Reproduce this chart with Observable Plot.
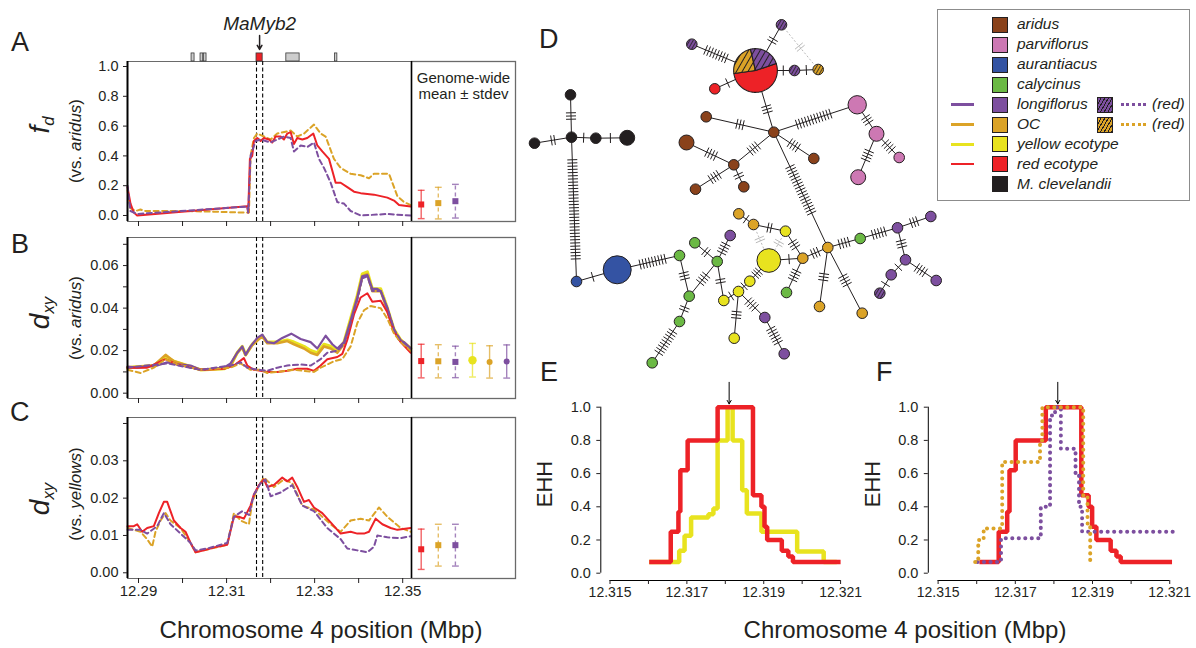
<!DOCTYPE html>
<html>
<head>
<meta charset="utf-8">
<script src="https://cdn.jsdelivr.net/npm/d3@7"></script>
<script src="https://cdn.jsdelivr.net/npm/@observablehq/plot@0.6"></script>
<style>
html,body{margin:0;padding:0;background:#fff;}
#root{position:relative;width:1196px;height:648px;overflow:hidden;background:#fff;font-family:"Liberation Sans",Arial,Helvetica,sans-serif;color:#231f20;}
#root .lbl{position:absolute;white-space:nowrap;line-height:1;}
#root sub{font-size:60%;vertical-align:-0.3em;line-height:0;}
</style>
</head>
<body>
<div id="root"></div>
<script>
// ======================= DATA =======================
const xTicksMain = [12.29, 12.30, 12.31, 12.32, 12.33, 12.34, 12.35];
const xLabelsMain = [12.29, 12.31, 12.33, 12.35];
const fdTicks = [0, 0.2, 0.4, 0.6, 0.8, 1.0];
const dxyAridusTicks = [0, 0.01, 0.02, 0.03, 0.04, 0.05, 0.06, 0.07];
const dxyAridusLabels = [0, 0.02, 0.04, 0.06];
const dxyYellowTicks = [0, 0.01, 0.02, 0.03, 0.04];
const dxyYellowLabels = [0, 0.01, 0.02, 0.03];
const ehhYTicks = [0, 0.2, 0.4, 0.6, 0.8, 1.0];
const ehhXTicks = [12.315, 12.316, 12.317, 12.318, 12.319, 12.320, 12.321];
const ehhXLabels = [12.315, 12.317, 12.319, 12.321];

const candidateWindow = [12.3168, 12.3182];
const targetGene = "MaMyb2";
const geneStart = [12.30205, 12.30409, 12.30484, 12.3168, 12.32357, 12.33461];
const geneEnd   = [12.30273, 12.30470, 12.30545, 12.3182, 12.32659, 12.33516];
const geneIsTarget = [false, false, false, true, false, false];
const coreSnp = 12.3181;

// A: f_d vs aridus
const fdRed = [[12.2875,0.19],[12.28818,0.08],[12.28894,0.02],[12.2897,0.0],[12.3147,0.062],[12.31492,0.02],[12.3153,0.38],[12.31583,0.40],[12.31621,0.50],[12.31697,0.52],[12.31773,0.50],[12.31848,0.52],[12.31962,0.51],[12.32038,0.49],[12.32114,0.53],[12.32227,0.53],[12.32303,0.51],[12.32379,0.55],[12.32455,0.56],[12.3253,0.48],[12.32606,0.52],[12.3272,0.51],[12.32833,0.52],[12.3297,0.55],[12.33061,0.47],[12.33174,0.43],[12.33326,0.38],[12.33402,0.30],[12.33477,0.22],[12.33591,0.22],[12.33742,0.19],[12.33894,0.16],[12.34045,0.15],[12.34348,0.14],[12.34652,0.12],[12.34803,0.10],[12.34917,0.07],[12.35182,0.06]];
const fdOCred = [[12.2875,0.17],[12.28818,0.05],[12.28932,0.03],[12.29045,0.04],[12.29159,0.03],[12.30106,0.03],[12.31394,0.02],[12.31508,0.02],[12.31545,0.40],[12.31621,0.52],[12.31697,0.55],[12.31848,0.53],[12.32,0.51],[12.32152,0.55],[12.32455,0.57],[12.32606,0.53],[12.32758,0.55],[12.32985,0.61],[12.33136,0.55],[12.3325,0.53],[12.33439,0.38],[12.33591,0.32],[12.33818,0.28],[12.34045,0.27],[12.34235,0.25],[12.34348,0.28],[12.34689,0.28],[12.34879,0.13],[12.3503,0.09],[12.35182,0.07]];
const fdLonRed = [[12.2875,0.2],[12.28818,0.03],[12.28894,0.02],[12.2897,0.01],[12.3147,0.06],[12.31492,0.02],[12.31545,0.40],[12.31659,0.50],[12.31773,0.51],[12.32,0.49],[12.32152,0.51],[12.32303,0.53],[12.32455,0.52],[12.3253,0.43],[12.32682,0.47],[12.32833,0.46],[12.32985,0.49],[12.33098,0.38],[12.33212,0.32],[12.33364,0.22],[12.33515,0.09],[12.33667,0.08],[12.33818,0.03],[12.34045,0.0],[12.34652,0.01],[12.35182,0.0]];

// B: d_xy vs aridus
const dxyAYellow = [[12.2875,0.012],[12.29348,0.013],[12.29614,0.017],[12.29803,0.015],[12.30106,0.013],[12.30409,0.011],[12.30939,0.0115],[12.31091,0.013],[12.31242,0.019],[12.31356,0.022],[12.31432,0.018],[12.31583,0.023],[12.31735,0.026],[12.31811,0.027],[12.31924,0.024],[12.32152,0.024],[12.32379,0.025],[12.3253,0.024],[12.32758,0.022],[12.32909,0.020],[12.33061,0.019],[12.33212,0.023],[12.33364,0.022],[12.33515,0.020],[12.33667,0.024],[12.33818,0.035],[12.3397,0.046],[12.34083,0.056],[12.34197,0.057],[12.3431,0.049],[12.345,0.049],[12.34652,0.040],[12.34803,0.030],[12.34955,0.025],[12.35182,0.021]];
const dxyAOC = [[12.2875,0.012],[12.29348,0.013],[12.29614,0.018],[12.29803,0.015],[12.30106,0.013],[12.30409,0.011],[12.30939,0.0115],[12.31091,0.013],[12.31242,0.019],[12.31356,0.0215],[12.31432,0.018],[12.31583,0.0225],[12.31735,0.0255],[12.31811,0.0265],[12.31924,0.0235],[12.32152,0.0235],[12.32379,0.0245],[12.3253,0.023],[12.32758,0.021],[12.32909,0.019],[12.33061,0.018],[12.33212,0.022],[12.33364,0.021],[12.33515,0.019],[12.33667,0.023],[12.33818,0.034],[12.3397,0.045],[12.34083,0.055],[12.34197,0.056],[12.3431,0.048],[12.345,0.048],[12.34652,0.039],[12.34803,0.029],[12.34955,0.025],[12.35182,0.021]];
const dxyALon = [[12.2875,0.0125],[12.2897,0.012],[12.29197,0.0125],[12.29424,0.013],[12.29652,0.0145],[12.29879,0.0135],[12.30182,0.013],[12.30409,0.011],[12.30939,0.012],[12.31091,0.014],[12.31242,0.019],[12.31356,0.022],[12.31432,0.018],[12.31545,0.022],[12.31697,0.026],[12.31811,0.0275],[12.31924,0.024],[12.32076,0.0235],[12.32265,0.026],[12.3247,0.028],[12.32682,0.0255],[12.32909,0.024],[12.33061,0.021],[12.3325,0.027],[12.33402,0.023],[12.33515,0.021],[12.33667,0.024],[12.33818,0.034],[12.3397,0.045],[12.34083,0.055],[12.34197,0.0555],[12.3431,0.049],[12.34424,0.049],[12.345,0.048],[12.34652,0.040],[12.34803,0.030],[12.34917,0.025],[12.3503,0.024],[12.35182,0.021]];
const dxyARed = [[12.2875,0.012],[12.29197,0.012],[12.29614,0.016],[12.29879,0.0135],[12.30409,0.011],[12.30939,0.0115],[12.31167,0.013],[12.31394,0.0165],[12.3147,0.013],[12.31621,0.011],[12.31773,0.0105],[12.31924,0.010],[12.32152,0.010],[12.32379,0.0105],[12.32606,0.0115],[12.32833,0.0115],[12.32985,0.0105],[12.33136,0.013],[12.33288,0.016],[12.33515,0.017],[12.33629,0.0185],[12.33742,0.025],[12.33894,0.037],[12.34045,0.045],[12.34197,0.047],[12.3431,0.043],[12.345,0.0435],[12.34652,0.038],[12.34803,0.029],[12.34955,0.024],[12.35182,0.019]];
const dxyAOCred = [[12.2875,0.011],[12.29045,0.0095],[12.29348,0.012],[12.29614,0.016],[12.29879,0.0135],[12.30409,0.011],[12.31091,0.012],[12.31318,0.014],[12.31545,0.011],[12.31773,0.011],[12.31924,0.0095],[12.32152,0.010],[12.3253,0.011],[12.32985,0.010],[12.33136,0.012],[12.33439,0.015],[12.33629,0.016],[12.33818,0.022],[12.3397,0.033],[12.34121,0.039],[12.34273,0.041],[12.345,0.040],[12.34652,0.035],[12.34803,0.028],[12.34955,0.024],[12.35182,0.020]];
const dxyALonRed = [[12.2875,0.012],[12.29652,0.014],[12.30409,0.011],[12.31091,0.013],[12.31318,0.0145],[12.3147,0.012],[12.31697,0.011],[12.31924,0.0105],[12.32152,0.012],[12.32379,0.013],[12.32682,0.0135],[12.32909,0.013],[12.33136,0.016],[12.33288,0.019],[12.33515,0.020],[12.33667,0.023],[12.33818,0.033],[12.3397,0.044],[12.34083,0.054],[12.34197,0.055],[12.3431,0.048],[12.345,0.048],[12.34652,0.040],[12.34803,0.030],[12.34955,0.025],[12.35182,0.021]];

// C: d_xy vs yellows
const dxyYRed = [[12.2875,0.0125],[12.28894,0.0125],[12.2897,0.013],[12.29083,0.011],[12.29197,0.012],[12.29348,0.0125],[12.29462,0.016],[12.29576,0.019],[12.29652,0.019],[12.29727,0.0165],[12.29803,0.014],[12.29955,0.012],[12.30068,0.011],[12.30182,0.008],[12.30295,0.0055],[12.30485,0.006],[12.30788,0.007],[12.31015,0.0075],[12.31167,0.015],[12.3128,0.015],[12.31394,0.0145],[12.31545,0.018],[12.31621,0.021],[12.31735,0.0235],[12.31848,0.025],[12.31924,0.023],[12.32076,0.0235],[12.32265,0.0255],[12.32379,0.0245],[12.32492,0.0255],[12.32606,0.023],[12.32758,0.019],[12.3287,0.0195],[12.32985,0.0175],[12.33174,0.016],[12.33364,0.0135],[12.33591,0.0105],[12.33818,0.011],[12.3397,0.0105],[12.34121,0.0105],[12.34235,0.011],[12.34386,0.0145],[12.34538,0.013],[12.34727,0.012],[12.34879,0.0115],[12.35182,0.012]];
const dxyYOCred = [[12.2875,0.012],[12.29045,0.011],[12.29197,0.009],[12.29311,0.007],[12.29386,0.011],[12.295,0.014],[12.29614,0.016],[12.29727,0.014],[12.29955,0.012],[12.30182,0.008],[12.30295,0.0055],[12.31015,0.0075],[12.31167,0.016],[12.31318,0.014],[12.31508,0.013],[12.31583,0.019],[12.31735,0.0235],[12.31848,0.0255],[12.32076,0.023],[12.32303,0.025],[12.32492,0.024],[12.3272,0.018],[12.32985,0.017],[12.33364,0.013],[12.33591,0.011],[12.33818,0.014],[12.34045,0.0145],[12.34235,0.014],[12.34462,0.0175],[12.34652,0.015],[12.34955,0.012],[12.35182,0.011]];
const dxyYLonRed = [[12.2875,0.0115],[12.29045,0.0115],[12.29197,0.0105],[12.29424,0.0125],[12.29576,0.016],[12.29727,0.013],[12.29955,0.0105],[12.30182,0.008],[12.30295,0.006],[12.30561,0.0065],[12.31015,0.008],[12.31167,0.015],[12.31356,0.0165],[12.31508,0.0155],[12.31621,0.021],[12.31773,0.024],[12.31886,0.025],[12.32,0.0205],[12.32227,0.0215],[12.32492,0.0235],[12.3272,0.018],[12.32985,0.0165],[12.33288,0.012],[12.33591,0.009],[12.33742,0.0065],[12.3397,0.006],[12.34197,0.0055],[12.34348,0.007],[12.34424,0.010],[12.34652,0.0095],[12.34955,0.0093],[12.35182,0.0098]];

// Genome-wide mean +- stdev
const gwCats = ["red ecotype", "OC (red)", "longiflorus (red)", "yellow ecotype", "OC", "longiflorus"];
const gwFdMean = [0.074, 0.083, 0.096];
const gwFdSd = [0.095, 0.106, 0.113];
const gwDxyAMean = [0.0151, 0.0150, 0.0147, 0.0155, 0.0147, 0.0149];
const gwDxyASd = [0.0079, 0.0078, 0.0074, 0.0079, 0.0076, 0.0078];
const gwDxyYMean = [0.0063, 0.0074, 0.0074];
const gwDxyYSd = [0.0054, 0.0056, 0.0056];

// E, F: EHH
const ehhERed = [[12.31602,0.067],[12.31658,0.25],[12.31678,0.37],[12.31683,0.62],[12.31702,0.80],[12.3178,1.0],[12.31872,0.47],[12.31894,0.40],[12.31902,0.28],[12.31909,0.20],[12.31947,0.135],[12.31964,0.10],[12.31976,0.067],[12.321,0.067]];
const ehhEYellow = [[12.31602,0.067],[12.3168,0.135],[12.31694,0.225],[12.31711,0.335],[12.31756,0.355],[12.31769,0.39],[12.3178,0.80],[12.31806,1.0],[12.31819,0.80],[12.31844,0.50],[12.31856,0.36],[12.31894,0.25],[12.31987,0.13],[12.32056,0.067],[12.3209,0.067]];
const ehhFRed = [[12.31607,0.067],[12.31657,0.25],[12.31679,0.37],[12.31685,0.62],[12.31701,0.80],[12.31779,1.0],[12.31871,0.47],[12.3189,0.40],[12.31899,0.28],[12.3191,0.20],[12.31947,0.135],[12.31962,0.10],[12.31973,0.067],[12.32106,0.067]];
const ehhFOCred = [[12.31596,0.067],[12.31604,0.2],[12.31618,0.27],[12.31666,0.67],[12.31764,0.8],[12.3177,1.0],[12.31876,0.47],[12.31887,0.3],[12.31894,0.067],[12.31897,0.067]];
const ehhFLonRed = [[12.31602,0.067],[12.31663,0.21],[12.31766,0.4],[12.3179,0.95],[12.31803,1.0],[12.31818,0.75],[12.31856,0.6],[12.31865,0.4],[12.31873,0.25],[12.32122,0.25]];

// D: haplotype network  [id, taxon, layoutX, layoutY, count, red-haplotype(hatched)]
const hapNodes = [
 ["k1","M. clevelandii",50,94.3,1,0],["k2","M. clevelandii",14,142.7,1,0],["k3","M. clevelandii",51,136.7,1,0],
 ["k4","M. clevelandii",75.3,137.7,1,0],["k5","M. clevelandii",106.7,137.3,2,0],
 ["a1","aurantiacus",56,281,1,0],["a2","aurantiacus",96.7,269.3,7,0],
 ["g1","calycinus",159,255,1,0],["g2","calycinus",174.3,242.3,1,0],["g3","calycinus",196.7,261,1,0],
 ["g4","calycinus",168.7,295.7,1,0],["g5","calycinus",159,321,1,0],["g6","calycinus",131.7,362.3,1,0],
 ["g7","calycinus",266,292,1,0],["g8","calycinus",339.7,238,1,0],
 ["Y","yellow ecotype",248.3,260,5,0],["y1","yellow ecotype",265,230.7,1,0],["y2","yellow ecotype",229.3,280.7,1,0],
 ["y3","yellow ecotype",203.3,300,1,0],["y4","yellow ecotype",218,291,1,0],["y5","yellow ecotype",213.7,337.7,1,0],
 ["o1","OC",218.3,213.3,1,0],["o2","OC",233,224,1,0],["o3","OC",282.3,257.7,1,0],["o4","OC",307.3,247,1,0],
 ["o5","OC",299,306,1,0],["o6","OC",341.7,312.7,1,0],
 ["p1","longiflorus",209.7,235,1,0],["p2","longiflorus",244.3,317,1,0],["p3","longiflorus",263.7,353.3,1,0],
 ["p4","longiflorus",377,227.3,1,0],["p5","longiflorus",410.3,216,1,0],["p6","longiflorus",385,259.3,1,0],
 ["p7","longiflorus",370.7,274.3,1,0],["p8","longiflorus",359.3,292.7,1,1],["p9","longiflorus",415.7,280,1,0],
 ["bh","aridus",253.3,131.7,1,0],["b1","aridus",185.7,116.3,1,0],["b2","aridus",166,142,2,0],["b3","aridus",213.3,164.3,1,0],
 ["b4","aridus",175,188.7,1,0],["b5","aridus",223.3,186.3,1,0],["b6","aridus",293.3,158,1,0],
 ["pk1","parviflorus",336.7,104.3,3,0],["pk2","parviflorus",356,133.3,2,0],["pk3","parviflorus",378.7,157,1,0],["pk4","parviflorus",337.7,176.7,2,0],
 ["M","mixed",235,70,17,0],
 ["r1","red ecotype",194.3,88.3,1,0],["ph1","longiflorus",171.3,43.7,1,1],["ph2","longiflorus",261,24.3,1,1],
 ["ph3","longiflorus",274,70,1,1],["oh1","OC",297.7,69,1,1]
];
// shared haplotype M composition: [taxon, count, red-haplotype]
const mixedComposition = [["red ecotype",9,0],["OC",4,1],["longiflorus",4,1]];
// [from, to, mutations]
const hapEdges = [
 ["k1","k3",3],["k2","k3",2],["k3","k4",1],["k4","k5",1],["k3","a1",32],["a1","a2",1],["a2","g1",9],
 ["g1","g4",3],["g4","g5",2],["g5","g6",9],["g4","g3",4],["g3","g2",2],["g3","p1",4],["g3","y3",2],
 ["Y","y2",3],["y2","y4",1],["y4","y3",1],["y4","y5",3],["y4","p2",4],["p2","p3",6],
 ["o1","o2",1],["o2","y1",2],["y1","o3",3],["Y","o3",1],["o3","o4",3],["o3","g7",4],
 ["o4","g8",4],["g8","p4",5],["p4","p5",3],["p4","p6",3],["p6","p7",1],["p7","p8",1],["p6","p9",4],
 ["o4","o5",3],["o4","o6",4],["o4","bh",17],
 ["bh","b1",3],["bh","b3",4],["b3","b2",4],["b3","b4",4],["b3","b5",2],["bh","b6",4],
 ["bh","pk1",12],["pk1","pk2",3],["pk2","pk3",4],["pk2","pk4",4],
 ["bh","M",3],["M","r1",1],["M","ph1",8],["M","ph2",2],["M","ph3",1],["ph3","oh1",1]
];
const hapEdgesAlt = [["ph2","oh1",2],["o2","Y",2],["y1","Y",2]];

// Legend
const legendTaxa = ["aridus","parviflorus","aurantiacus","calycinus","longiflorus","OC","yellow ecotype","red ecotype","M. clevelandii"];
const legendLineTaxa = ["longiflorus","OC","yellow ecotype","red ecotype"];
const legendRedHapTaxa = ["longiflorus","OC"];

// ======================= STYLE / LAYOUT =======================
const COLORS = {"aridus":"#8a421b","parviflorus":"#cd78b3","aurantiacus":"#3453a3","calycinus":"#6bb944",
  "longiflorus":"#7d4f9f","OC":"#dba327","yellow ecotype":"#e8e31f","red ecotype":"#ed2227","M. clevelandii":"#231f20"};
const INK = "#231f20";
const FONT = '"Liberation Sans", Arial, Helvetica, sans-serif';
const baseStyle = {background:"transparent", overflow:"visible", fontFamily: FONT, color: INK};
const root = document.getElementById("root");
const X = d => d[0], Y = d => d[1];
const inList = (list, f) => d => list.some(v => Math.abs(v - d) < 1e-9) ? f(d) : "";

function place(el, left, top) {
  el.style.position = "absolute"; el.style.left = left + "px"; el.style.top = top + "px";
  root.appendChild(el); return el;
}
function hLabel(html, x, capTop, size, center = false, extra = {}) {
  const d = document.createElement("div"); d.className = "lbl"; d.innerHTML = html;
  d.style.fontSize = size + "px"; d.style.top = (capTop - 0.13 * size) + "px"; d.style.left = x + "px";
  if (center) d.style.transform = "translateX(-50%)";
  Object.assign(d.style, extra); root.appendChild(d); return d;
}
function vLabel(html, cx, cy, size) {
  const d = document.createElement("div"); d.className = "lbl"; d.innerHTML = html;
  d.style.fontSize = size + "px"; d.style.left = cx + "px"; d.style.top = cy + "px";
  d.style.transform = "translate(-50%,-50%) rotate(-90deg)";
  root.appendChild(d); return d;
}

// ---------- A/B/C main panels ----------
const xMainDomain = [12.2875, 12.3520];
function mainPlot({height, mTop, mBottom, yDomain, yTicks, yFormat, series, xLabels, extra = []}) {
  return Plot.plot({
    width: 411, height, marginLeft: 127, marginRight: 0, marginTop: mTop, marginBottom: mBottom,
    style: baseStyle,
    x: {domain: xMainDomain, label: null},
    y: {domain: yDomain, label: null},
    color: {type: "identity"},
    marks: [
      Plot.frame({stroke: "#6a6a6a"}),
      Plot.ruleX(candidateWindow, {stroke: "#000", strokeWidth: 1.1, strokeDasharray: "4,2.5"}),
      ...series.map(s => Plot.line(s.data, {x: X, y: Y, stroke: s.color, strokeWidth: s.width || 2,
        strokeDasharray: s.dash, strokeLinejoin: "round", strokeOpacity: s.opacity || 1})),
      Plot.ruleX([xMainDomain[0]], {stroke: "#000", strokeWidth: 2}),
      Plot.axisY({ticks: yTicks, tickFormat: yFormat, tickSize: 4, tickPadding: 5, fontSize: 14.5, label: null}),
      Plot.axisX({ticks: xTicksMain, tickFormat: xLabels ? inList(xLabelsMain, d3.format(".2f")) : (() => ""),
        tickSize: 5, tickPadding: 2, fontSize: 15, label: null}),
      ...extra
    ]
  });
}
const RED = COLORS["red ecotype"], OCC = COLORS.OC, LON = COLORS.longiflorus, YEL = COLORS["yellow ecotype"];
const DASH = "5,3.5";

const geneIdx = d3.range(geneStart.length);
const targetMid = (geneStart[3] + geneEnd[3]) / 2;
const plotA = mainPlot({
  height: 230, mTop: 61, mBottom: 9, yDomain: [-0.0403, 1.0336], yTicks: fdTicks, yFormat: d3.format(".1f"),
  series: [
    {data: fdOCred, color: OCC, dash: DASH},
    {data: fdRed, color: RED, width: 2},
    {data: fdLonRed, color: LON, dash: DASH}
  ],
  xLabels: false,
  extra: [
    Plot.rect(geneIdx, {x1: i => geneStart[i], x2: i => geneEnd[i], y1: 1.0336, y2: 1.0877,
      fill: i => geneIsTarget[i] ? RED : "#cdcdcd", stroke: "#3a3a3a", strokeWidth: 0.8}),
    Plot.arrow([targetMid], {x1: d => d, x2: d => d, y1: 1.2085, y2: 1.1145, stroke: INK, strokeWidth: 1.5, headLength: 7}),
    Plot.text([targetGene], {x: targetMid, y: 1.289, text: d => d, fontSize: 19, fontStyle: "italic", fill: INK})
  ]
});
place(plotA, 0, 0);

const plotB = mainPlot({
  height: 180, mTop: 7, mBottom: 12, yDomain: [-0.0025, 0.0732], yTicks: dxyAridusTicks,
  yFormat: inList(dxyAridusLabels, d3.format(".2f")),
  series: [
    {data: dxyAYellow, color: YEL, width: 3.2},
    {data: dxyAOC, color: OCC, width: 2.6},
    {data: dxyALon, color: LON, width: 2.2},
    {data: dxyARed, color: RED, width: 2},
    {data: dxyAOCred, color: OCC, dash: DASH},
    {data: dxyALonRed, color: LON, dash: DASH}
  ],
  xLabels: false
});
place(plotB, 0, 230);

const plotC = mainPlot({
  height: 200, mTop: 7, mBottom: 32, yDomain: [-0.00153, 0.0416], yTicks: dxyYellowTicks,
  yFormat: inList(dxyYellowLabels, d3.format(".2f")),
  series: [
    {data: dxyYOCred, color: OCC, dash: DASH},
    {data: dxyYRed, color: RED, width: 2},
    {data: dxyYLonRed, color: LON, dash: DASH}
  ],
  xLabels: true
});
place(plotC, 0, 410);

// ---------- genome-wide side boxes ----------
const sideStyle = {
  "red ecotype": {color: RED, symbol: "square", r: 3.4},
  "OC (red)": {color: OCC, dash: "4,3", symbol: "square", r: 3.4},
  "longiflorus (red)": {color: LON, dash: "4,3", symbol: "square", r: 3.4},
  "yellow ecotype": {color: YEL, symbol: "circle", r: 4.2},
  "OC": {color: OCC, symbol: "circle", r: 3},
  "longiflorus": {color: LON, symbol: "circle", r: 3}
};
function sidePlot({height, mTop, mBottom, yDomain, means, sds, note}) {
  const stats = means.map((m, i) => ({i, cat: gwCats[i], mean: m, lo: m - sds[i], hi: m + sds[i]}));
  const marks = [Plot.frame({stroke: "#6a6a6a", strokeWidth: 1.3})];
  for (const s of stats) {
    const st = sideStyle[s.cat];
    marks.push(
      Plot.ruleX([s], {x: "i", y1: "lo", y2: "hi", stroke: st.color, strokeOpacity: 0.7, strokeWidth: 1.4, strokeDasharray: st.dash}),
      Plot.link([s, s], {x1: d => d.i - 0.2, x2: d => d.i + 0.2, y1: (d, j) => j ? d.hi : d.lo, y2: (d, j) => j ? d.hi : d.lo,
        stroke: st.color, strokeOpacity: 0.7, strokeWidth: 1.4}),
      Plot.dot([s], {x: "i", y: "mean", symbol: st.symbol, r: st.r, fill: st.color, stroke: "none"})
    );
  }
  marks.push(Plot.ruleX([-0.567], {stroke: "#000", strokeWidth: 1.5}));
  if (note) marks.push(Plot.text([note], {text: d => d, frameAnchor: "top", lineAnchor: "top", dy: 9, fontSize: 15, lineHeight: 1.13, fill: INK}));
  return Plot.plot({
    width: 105, height, marginLeft: 0, marginRight: 1, marginTop: mTop, marginBottom: mBottom,
    style: baseStyle, x: {domain: [-0.567, 5.515], axis: null}, y: {domain: yDomain, axis: null}, marks
  });
}
place(sidePlot({height: 230, mTop: 61, mBottom: 9, yDomain: [-0.0403, 1.0336], means: gwFdMean, sds: gwFdSd,
  note: "Genome-wide\nmean \u00b1 stdev"}), 411, 0);
place(sidePlot({height: 180, mTop: 7, mBottom: 12, yDomain: [-0.0025, 0.0732], means: gwDxyAMean, sds: gwDxyASd}), 411, 230);
place(sidePlot({height: 200, mTop: 7, mBottom: 32, yDomain: [-0.00153, 0.0416], means: gwDxyYMean, sds: gwDxyYSd}), 411, 410);

// ---------- E / F: EHH ----------
function ehhPlot({width, mLeft, mRight, xDomain, series}) {
  return Plot.plot({
    width, height: 230, marginLeft: mLeft, marginRight: mRight, marginTop: 26.7, marginBottom: 30,
    style: baseStyle,
    x: {domain: xDomain, label: null}, y: {domain: [-0.044, 1], label: null},
    marks: [
      ...series.map(s => Plot.line(s.data, {x: X, y: Y, curve: "step-after", stroke: s.color,
        strokeWidth: s.dotted ? 4 : 4.5, strokeDasharray: s.dotted ? "0.1,6.4" : undefined,
        strokeLinecap: s.dotted ? "round" : "butt", strokeLinejoin: "miter"})),
      Plot.ruleX([xDomain[0]], {y1: 0, y2: 1, stroke: "#000", strokeWidth: 1}),
      Plot.ruleY([-0.044], {x1: ehhXTicks[0], x2: ehhXTicks[ehhXTicks.length - 1], stroke: "#000", strokeWidth: 1}),
      Plot.axisY({ticks: ehhYTicks, tickFormat: d3.format(".1f"), tickSize: 4, tickPadding: 6, fontSize: 14.5, label: null}),
      Plot.axisX({ticks: ehhXTicks, tickFormat: inList(ehhXLabels, d3.format(".3f")), tickSize: 4, tickPadding: 3, fontSize: 14, label: null}),
      Plot.arrow([coreSnp], {x1: d => d, x2: d => d, y1: 1.15, y2: 1.02, stroke: "#000", strokeWidth: 1, headLength: 6})
    ]
  });
}
place(ehhPlot({width: 340, mLeft: 80.3, mRight: 10.3, xDomain: [12.31476, 12.32125],
  series: [{data: ehhEYellow, color: YEL}, {data: ehhERed, color: RED}]}), 520, 380);
place(ehhPlot({width: 326, mLeft: 57.8, mRight: 15.2, xDomain: [12.314746, 12.3213],
  series: [{data: ehhFRed, color: RED}, {data: ehhFLonRed, color: LON, dotted: true}, {data: ehhFOCred, color: OCC, dotted: true}]}), 870, 380);

// ---------- D: haplotype network ----------
const R1 = 5.3;
const rOf = n => R1 * Math.sqrt(n);
const nodes = hapNodes.map(([id, group, x, y, n, hatched]) => ({id, group, x, y, n, hatched}));
const nodeById = new Map(nodes.map(d => [d.id, d]));
function edgeSegs(edges) {
  return edges.map(([a, b]) => { const A = nodeById.get(a), B = nodeById.get(b); return {x1: A.x, y1: A.y, x2: B.x, y2: B.y}; });
}
function edgeTicks(edges, spacing = 3.2, half = 5) {
  const out = [];
  for (const [a, b, k] of edges) {
    const A = nodeById.get(a), B = nodeById.get(b);
    const dx = B.x - A.x, dy = B.y - A.y, L = Math.hypot(dx, dy);
    const ux = dx / L, uy = dy / L, px = -uy, py = ux;
    const rA = rOf(A.n), rB = rOf(B.n), vis = L - rA - rB;
    const sp = Math.min(spacing, (vis - 3) / Math.max(k, 1));
    const mid = rA + vis / 2;
    for (let i = 0; i < k; i++) {
      const t = mid + (i - (k - 1) / 2) * sp;
      const cx = A.x + ux * t, cy = A.y + uy * t;
      out.push({x1: cx + px * half, y1: cy + py * half, x2: cx - px * half, y2: cy - py * half});
    }
  }
  return out;
}
const mixed = nodeById.get("M");
const mixedTotal = d3.sum(mixedComposition, d => d[1]);
const pieStart = -18.6 * Math.PI / 180;
let acc = pieStart;
const slices = mixedComposition.map(([group, n, hatched]) => {
  const a0 = acc, a1 = acc + 2 * Math.PI * n / mixedTotal; acc = a1;
  const R = rOf(mixedTotal), pts = [{x: mixed.x, y: mixed.y}];
  const steps = Math.max(8, Math.ceil((a1 - a0) / 0.05));
  for (let s = 0; s <= steps; s++) { const a = a0 + (a1 - a0) * s / steps; pts.push({x: mixed.x + R * Math.cos(a), y: mixed.y + R * Math.sin(a)}); }
  pts.push({x: mixed.x, y: mixed.y});
  return {group, hatched, pts};
});
const plainNodes = nodes.filter(d => d.group !== "mixed" && !d.hatched);
const hatchedNodes = nodes.filter(d => d.hatched);
const link = (data, o) => Plot.link(data, {x1: "x1", y1: "y1", x2: "x2", y2: "y2", ...o});
const netMarks = [
  link(edgeSegs(hapEdgesAlt), {stroke: "#b9b9b9", strokeWidth: 1, strokeDasharray: "2,2"}),
  link(edgeTicks(hapEdgesAlt, 3, 5), {stroke: "#b9b9b9", strokeWidth: 1}),
  link(edgeSegs(hapEdges), {stroke: INK, strokeWidth: 1}),
  link(edgeTicks(hapEdges, 3.2, 5), {stroke: INK, strokeWidth: 1}),
  Plot.dot(plainNodes, {x: "x", y: "y", r: "n", fill: d => COLORS[d.group], stroke: INK, strokeWidth: 1}),
  ...d3.groups(hatchedNodes, d => d.group).map(([g, arr]) =>
    Plot.dot(arr, {x: "x", y: "y", r: "n", fill: COLORS[g], stroke: INK, strokeWidth: 1, ariaDescription: "hatch-small-" + g})),
  ...slices.map(s => Plot.line(s.pts, {x: "x", y: "y", fill: COLORS[s.group], stroke: INK, strokeWidth: 1.1,
    strokeLinejoin: "round", ariaDescription: s.hatched ? "hatch-pie-" + s.group : "pie"}))
];
const plotD = Plot.plot({
  width: 420, height: 370, marginLeft: 0, marginRight: 0, marginTop: 0, marginBottom: 0, style: baseStyle,
  x: {domain: [0, 420], range: [0, 420], axis: null}, y: {domain: [0, 370], range: [0, 370], axis: null},
  r: {type: "sqrt", domain: [0, mixedTotal], range: [0, rOf(mixedTotal)]},
  color: {type: "identity"},
  marks: netMarks
});
// hatch patterns for red-haplotype samples
(function addHatches(svg) {
  const ns = "http://www.w3.org/2000/svg";
  const defs = document.createElementNS(ns, "defs");
  const pat = (id, color, sp, w) => `<pattern id="${id}" patternUnits="userSpaceOnUse" width="${sp}" height="${sp}" patternTransform="rotate(30)">` +
    `<rect width="${sp}" height="${sp}" fill="${color}"/><line x1="${sp/2}" y1="0" x2="${sp/2}" y2="${sp}" stroke="${INK}" stroke-width="${w}"/></pattern>`;
  const map = {};
  let html = "";
  ["longiflorus", "OC"].forEach((g, i) => {
    html += pat("hs" + i, COLORS[g], 3, 0.8) + pat("hp" + i, COLORS[g], 5, 1);
    map["hatch-small-" + g] = "hs" + i; map["hatch-pie-" + g] = "hp" + i;
  });
  defs.innerHTML = html;
  svg.insertBefore(defs, svg.firstChild);
  svg.querySelectorAll("[aria-description]").forEach(g => {
    const id = map[g.getAttribute("aria-description")];
    if (!id) return;
    g.setAttribute("fill", `url(#${id})`);
    g.querySelectorAll("[fill]").forEach(e => e.setAttribute("fill", `url(#${id})`));
  });
})(plotD.tagName.toLowerCase() === "svg" ? plotD : plotD.querySelector("svg"));
place(plotD, 520, 0);

// ---------- Legend ----------
const legend = document.createElement("div");
Object.assign(legend.style, {position: "absolute", left: "937px", top: "9px", width: "253px", height: "192px",
  border: "1px solid #8c8c8c", boxSizing: "border-box", background: "#fff"});
root.appendChild(legend);
function lg(el, style) { Object.assign(el.style, {position: "absolute"}, style); legend.appendChild(el); return el; }
legendTaxa.forEach((name, i) => {
  const cy = 15 + i * 19.9;
  lg(document.createElement("div"), {left: "54px", top: (cy - 8) + "px", width: "16px", height: "16px",
    background: COLORS[name], border: "1px solid " + INK, boxSizing: "border-box"});
  const t = lg(document.createElement("div"), {left: "79px", top: (cy - 0.56 * 15.5) + "px", fontSize: "15.5px",
    fontStyle: "italic", lineHeight: "1", whiteSpace: "nowrap"});
  t.textContent = name;
  if (legendLineTaxa.includes(name))
    lg(document.createElement("div"), {left: "13px", top: (cy - 1.2) + "px", width: "23px", height: "2.4px", background: COLORS[name]});
  if (legendRedHapTaxa.includes(name)) {
    lg(document.createElement("div"), {left: "159px", top: (cy - 8) + "px", width: "16px", height: "16px", boxSizing: "border-box",
      border: "1px solid " + INK,
      background: `repeating-linear-gradient(120deg, ${COLORS[name]} 0 2.2px, ${INK} 2.2px 3.2px)`});
    lg(document.createElement("div"), {left: "183px", top: (cy - 1.5) + "px", width: "25px", height: "0",
      borderTop: "3px dotted " + COLORS[name]});
    const r = lg(document.createElement("div"), {left: "214px", top: (cy - 0.56 * 15.5) + "px", fontSize: "15.5px",
      fontStyle: "italic", lineHeight: "1", whiteSpace: "nowrap"});
    r.textContent = "(red)";
  }
});

// ---------- text labels ----------
const letters = [["A", 11, 33], ["B", 11, 235], ["C", 10, 403], ["D", 539, 30], ["E", 540, 363], ["F", 876, 363]];
letters.forEach(([t, x, y]) => hLabel(t, x, y, 27));
vLabel("<i>f<sub>d</sub></i>", 40, 125, 28);
vLabel("(vs. <i>aridus</i>)", 75, 141, 17);
vLabel("<i>d<sub>xy</sub></i>", 40, 313, 28);
vLabel("(vs. <i>aridus</i>)", 75, 318, 17);
vLabel("<i>d<sub>xy</sub></i>", 40, 499, 28);
vLabel("(vs. <i>yellows</i>)", 75, 494, 17);
vLabel("EHH", 545, 484, 22);
vLabel("EHH", 873, 484, 22);
hLabel("Chromosome 4 position (Mbp)", 321, 621, 24, true);
hLabel("Chromosome 4 position (Mbp)", 905, 621, 24, true);
</script>
</body>
</html>
